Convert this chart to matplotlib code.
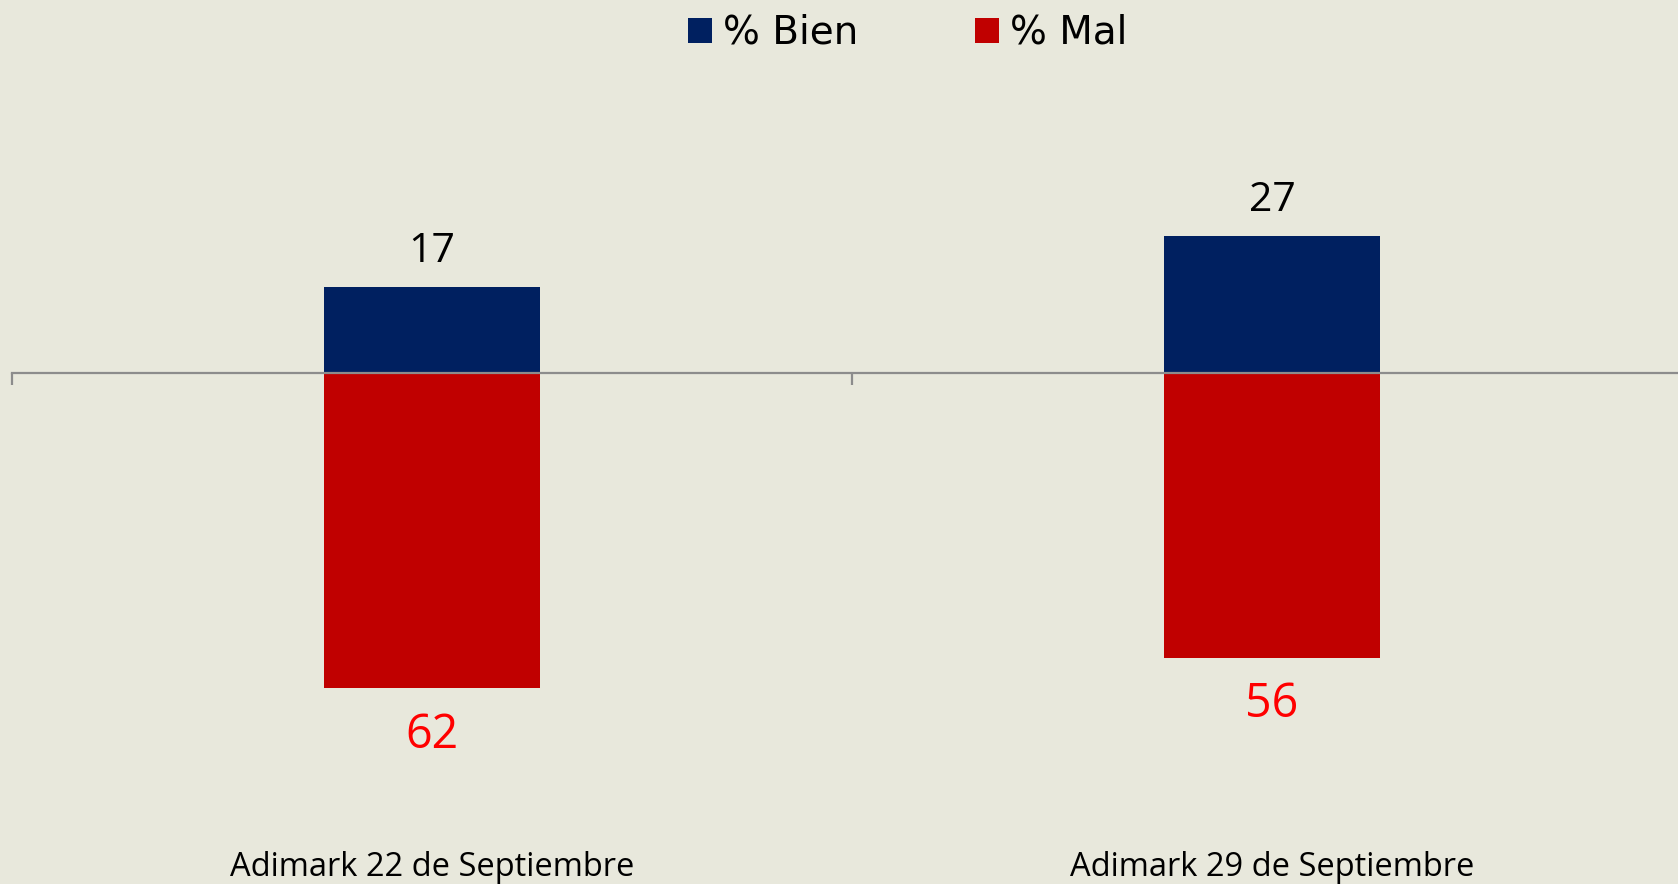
import matplotlib
matplotlib.use("Agg")
import matplotlib.pyplot as plt
from matplotlib.patches import Patch
from matplotlib.transforms import blended_transform_factory

categories = ["Adimark 22 de Septiembre", "Adimark 29 de Septiembre"]
bien = [17, 27]
mal = [62, 56]
series_names = ["% Bien", "% Mal"]

BG = "#E8E8DC"
BLUE = "#002060"
RED = "#C00000"

fig = plt.figure(figsize=(16.78, 8.84), dpi=100, facecolor=BG)
ax = fig.add_axes([12/1678, 0, 1680/1678, 1])
ax.set_facecolor(BG)

x = list(range(len(categories)))
w = 0.256
ax.bar(x, bien, width=w, color=BLUE, zorder=2)
ax.bar(x, [-m for m in mal], width=w, color=RED, zorder=2)

ax.set_xlim(-0.5, 1.5)
ax.set_ylim(-100.5, 73.5)

for s in ["top", "right", "left"]:
    ax.spines[s].set_visible(False)
ax.spines["bottom"].set_position(("data", 0))
ax.spines["bottom"].set_color("#8C8C8C")
ax.spines["bottom"].set_linewidth(1.6)
ax.spines["bottom"].set_zorder(3)
ax.set_yticks([])
ax.set_xticks([-0.5, 0.5, 1.5])
ax.set_xticklabels([])
ax.tick_params(axis="x", direction="out", length=8.5, width=1.6, color="#8C8C8C")

lab_font = "Open Sans"
for i in x:
    ax.annotate(str(bien[i]), (i, bien[i]), xytext=(0, 25.5), textcoords="offset points",
                ha="center", va="center", fontsize=29.5, family=lab_font, color="black")
    ax.annotate(str(mal[i]), (i, -mal[i]), xytext=(0, -33.5), textcoords="offset points",
                ha="center", va="center", fontsize=33.5, family=lab_font, color="#FF0000")

tr = blended_transform_factory(ax.transData, fig.transFigure)
for i, c in enumerate(categories):
    ax.text(i, 1 - 867/884, c, transform=tr, ha="center", va="center",
            fontsize=23.5, family=lab_font, color="black")

handles = [Patch(facecolor=BLUE, edgecolor="none"), Patch(facecolor=RED, edgecolor="none")]
fig.legend(handles, series_names, loc="center", bbox_to_anchor=(908/1678, 1 - 33/884),
           ncol=2, frameon=False, prop={"family": "DejaVu Sans", "size": 28},
           handlelength=0.6, handleheight=0.6, handletextpad=0.3, columnspacing=3.0)

fig.savefig("out.png", dpi=100, facecolor=BG)
